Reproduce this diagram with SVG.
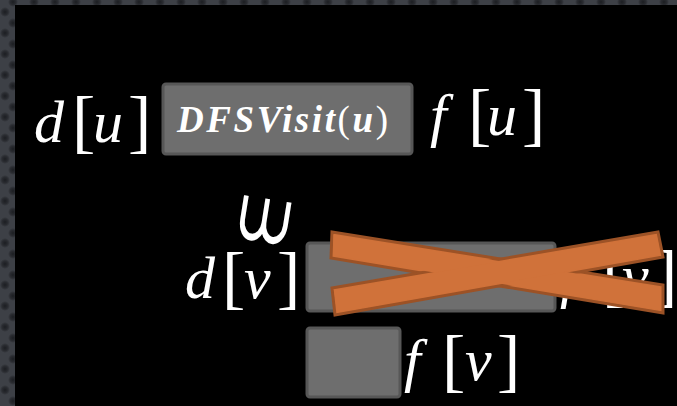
<svg xmlns="http://www.w3.org/2000/svg" width="677" height="406" viewBox="0 0 677 406">
  <defs>
    <radialGradient id="dotg">
      <stop offset="0" stop-color="#1c1e22"/>
      <stop offset="0.6" stop-color="#2a2c31"/>
      <stop offset="1" stop-color="#3d4046"/>
    </radialGradient>
    <pattern id="tex" width="21" height="21" patternUnits="userSpaceOnUse">
      <rect width="21" height="21" fill="#3d4046"/>
      <circle cx="13" cy="2" r="5" fill="url(#dotg)"/>
      <circle cx="5" cy="12" r="5" fill="url(#dotg)"/>
      <circle cx="13" cy="23" r="5" fill="url(#dotg)"/>
      <circle cx="26" cy="12" r="5" fill="url(#dotg)"/>
      <circle cx="-8" cy="2" r="5" fill="url(#dotg)"/>
    </pattern>
  </defs>
  <style>
    .m { font-family: "Liberation Serif", "DejaVu Serif", serif; fill: #ffffff; }
    .it { font-style: italic; font-size: 60px; }
    .br { font-size: 70px; }
    .box { fill: #6e6e6e; stroke: #575757; stroke-width: 3; }
    .bar { fill: #d0723a; stroke: #9c5226; stroke-width: 3; stroke-linejoin: miter; }
    .barf { fill: #d0723a; }
  </style>
  <rect width="677" height="406" fill="#000"/>
  <rect x="0" y="0" width="15" height="406" fill="url(#tex)"/>
  <rect x="0" y="0" width="677" height="5" fill="url(#tex)"/>

  <g id="du">
    <text class="m"><tspan class="it" x="34" y="142">d</tspan><tspan class="br" x="72" y="145">[</tspan><tspan class="it" x="93" y="142">u</tspan><tspan class="br" x="128" y="145">]</tspan></text>
  </g>
  <g id="dfsvisit">
    <rect class="box" x="163" y="84" width="249" height="70" rx="3"/>
    <text class="m" x="177" y="132" font-size="37" font-weight="bold" textLength="211" lengthAdjust="spacing" fill="#f4f4f4"><tspan font-style="italic">DFSVisit</tspan><tspan font-weight="normal">(</tspan><tspan font-style="italic">u</tspan><tspan font-weight="normal">)</tspan></text>
  </g>
  <g id="fu">
    <text class="m"><tspan class="it" x="430" y="135" font-size="64">f</tspan><tspan class="br" x="468" y="138">[</tspan><tspan class="it" x="487" y="135">u</tspan><tspan class="br" x="522" y="138">]</tspan></text>
  </g>

  <g id="symbol">
    <text class="m" transform="translate(261,241) rotate(9) scale(1.05,1.6)" font-family="DejaVu Sans, sans-serif" font-weight="bold" font-size="46" text-anchor="middle">⩊</text>
  </g>
  <g id="dv">
    <text class="m"><tspan class="it" x="185" y="298">d</tspan><tspan class="br" x="222" y="301">[</tspan><tspan class="it" x="244" y="298">v</tspan><tspan class="br" x="277" y="301">]</tspan></text>
  </g>
  <g id="fv-hidden">
    <text class="m"><tspan class="it" x="560" y="296" font-size="64">f</tspan><tspan class="br" x="602" y="299">[</tspan><tspan class="it" x="622" y="296">v</tspan><tspan class="br" x="654" y="299">]</tspan></text>
  </g>
  <g id="box2">
    <rect class="box" x="307" y="243" width="248" height="68" rx="3"/>
  </g>
  <g id="cross">
    <polygon class="bar" points="332,232 663,285 663,313 331,258"/>
    <polygon class="bar" points="332,288 658,232 663,257 335,315"/>
    <polygon class="barf" points="333.5,234.5 660.5,287 660.5,310.5 333,255.5"/>
    <polygon class="barf" points="334,290 656.5,234.5 660.5,255 337,312.5"/>
  </g>
  <g id="box3">
    <rect class="box" x="307" y="328" width="93" height="69" rx="3"/>
  </g>
  <g id="fv">
    <text class="m"><tspan class="it" x="404" y="380" font-size="64">f</tspan><tspan class="br" x="442" y="384">[</tspan><tspan class="it" x="465" y="380">v</tspan><tspan class="br" x="497" y="384">]</tspan></text>
  </g>
</svg>
